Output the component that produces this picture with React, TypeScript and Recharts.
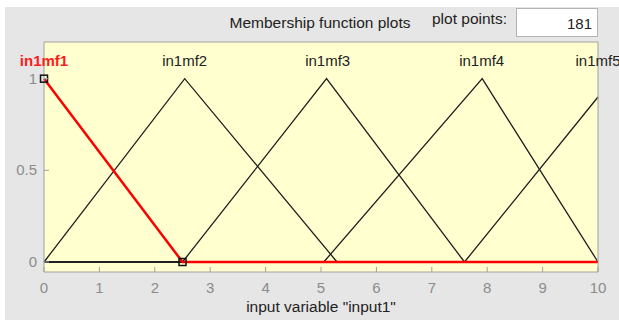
import React from 'react';
import { ComposedChart, Line, Scatter, XAxis, YAxis, CartesianGrid, Label } from 'recharts';

// membership functions of input1
const mf1X = [0, 2.5, 10];
const mf1Y = [1, 0, 0];
const mf2X = [0, 2.54, 5.29, 10];
const mf2Y = [0, 1, 0, 0];
const mf3X = [0, 2.5, 5.1, 7.59, 10];
const mf3Y = [0, 0, 1, 0, 0];
const mf4X = [0, 5.05, 7.91, 10];
const mf4Y = [0, 0, 1, 0];
const mf5X = [0, 7.59, 10];
const mf5Y = [0, 0, 0.9];

const mfNames = ['in1mf1', 'in1mf2', 'in1mf3', 'in1mf4', 'in1mf5'];
const mfLabelX = [0, 2.54, 5.12, 7.9, 10];

// selected mf handles
const handleX = [0, 2.5];
const handleY = [1, 0];

const xTicks = [0, 1, 2, 3, 4, 5, 6, 7, 8, 9, 10];
const yTicks = [0, 0.5, 1];
const plotPoints = 181;

const FONT = '"Liberation Sans", Arial, sans-serif';
const BORDER = '#a0a0a0';
const TICK_TEXT = '#8c8c8c';

const pts = (xs: number[], ys: number[]) => xs.map((x, i) => ({ x, y: ys[i] }));

const BottomTick = (p: any) => (
  <g>
    <line x1={p.x} x2={p.x} y1={p.y} y2={p.y - 5} stroke={BORDER} />
    <text x={p.x} y={p.y + 21} textAnchor="middle" fill={TICK_TEXT} fontSize={15} fontFamily={FONT}>
      {p.payload.value}
    </text>
  </g>
);

const TopTick = (p: any) => <line x1={p.x} x2={p.x} y1={p.y} y2={p.y + 5} stroke={BORDER} />;

const LeftTick = (p: any) => (
  <g>
    <line x1={p.x} x2={p.x + 5} y1={p.y} y2={p.y} stroke={BORDER} />
    <text x={p.x - 7} y={p.y + 5} textAnchor="end" fill={TICK_TEXT} fontSize={15} fontFamily={FONT}>
      {p.payload.value}
    </text>
  </g>
);

const RightTick = (p: any) => <line x1={p.x} x2={p.x - 5} y1={p.y} y2={p.y} stroke={BORDER} />;

const HandleShape = (p: any) => (
  <rect x={p.cx - 3.5} y={p.cy - 3.5} width={7} height={7} fill="none" stroke="#111" strokeWidth={1.5} />
);

const NameShape = (p: any) => {
  const first = p.payload.name === mfNames[0];
  return (
    <text
      x={p.cx}
      y={p.cy - 12.5}
      textAnchor="middle"
      fontSize={15}
      fontFamily={FONT}
      fontWeight={first ? 'bold' : 'normal'}
      fill={first ? '#ff1a1a' : '#222'}
    >
      {p.payload.name}
    </text>
  );
};

export default function App() {
  const labels = mfNames.map((name, i) => ({ x: mfLabelX[i], y: 1, name }));
  const black = [pts(mf2X, mf2Y), pts(mf3X, mf3Y), pts(mf4X, mf4Y), pts(mf5X, mf5Y)];

  return (
    <div style={{ position: 'absolute', left: 0, top: 0, width: 619, height: 320, background: '#fff', overflow: 'hidden' }}>
      <div style={{ position: 'absolute', left: 5, top: 7, width: 614, height: 313, background: '#e6e6e6' }} />
      <svg width={619} height={320} style={{ position: 'absolute', left: 0, top: 0 }}>
        <text x={320} y={28} textAnchor="middle" fontSize={15.5} fontFamily={FONT} fill="#222">
          Membership function plots
        </text>
        <text x={432} y={24} fontSize={15.5} fontFamily={FONT} fill="#222">
          plot points:
        </text>
        <rect x={516.5} y={8.5} width={81} height={28} fill="#fff" stroke="#b4b4b4" />
        <text x={592} y={29} textAnchor="end" fontSize={15} fontFamily={FONT} fill="#222">
          {plotPoints}
        </text>
      </svg>
      <div style={{ position: 'absolute', left: 0, top: 0 }}>
        <ComposedChart width={619} height={320} margin={{ top: 41, right: 20, bottom: 47, left: 43 }}>
          <CartesianGrid horizontal={false} vertical={false} fill="#ffffd0" xAxisId="bottom" yAxisId="left" />
          <XAxis
            xAxisId="bottom"
            type="number"
            dataKey="x"
            domain={[0, 10]}
            ticks={xTicks}
            interval={0}
            height={1}
            tickSize={0}
            tickMargin={0}
            tickLine={false}
            axisLine={{ stroke: BORDER }}
            tick={<BottomTick />}
          >
            <Label
              value={'input variable "input1"'}
              position="bottom"
              offset={28}
              fill="#222"
              fontSize={15.5}
              fontFamily={FONT}
            />
          </XAxis>
          <XAxis
            xAxisId="top"
            orientation="top"
            type="number"
            dataKey="x"
            domain={[0, 10]}
            ticks={xTicks}
            interval={0}
            height={1}
            tickSize={0}
            tickMargin={0}
            tickLine={false}
            axisLine={{ stroke: BORDER }}
            tick={<TopTick />}
          />
          <YAxis
            yAxisId="left"
            type="number"
            dataKey="y"
            domain={[-0.0545, 1.2]}
            ticks={yTicks}
            interval={0}
            width={1}
            tickSize={0}
            tickMargin={0}
            tickLine={false}
            axisLine={{ stroke: BORDER }}
            tick={<LeftTick />}
          />
          <YAxis
            yAxisId="right"
            orientation="right"
            type="number"
            dataKey="y"
            domain={[-0.0545, 1.2]}
            ticks={yTicks}
            interval={0}
            width={1}
            tickSize={0}
            tickMargin={0}
            tickLine={false}
            axisLine={{ stroke: BORDER }}
            tick={<RightTick />}
          />
          {black.map((d, i) => (
            <Line
              key={i}
              xAxisId="bottom"
              yAxisId="left"
              data={d}
              dataKey="y"
              type="linear"
              stroke="#1e1e1e"
              strokeWidth={1.3}
              dot={false}
              isAnimationActive={false}
            />
          ))}
          <Line
            xAxisId="bottom"
            yAxisId="left"
            data={pts(mf1X, mf1Y)}
            dataKey="y"
            type="linear"
            stroke="#ff0000"
            strokeWidth={2.5}
            dot={false}
            isAnimationActive={false}
          />
          <Scatter
            xAxisId="bottom"
            yAxisId="left"
            data={pts(handleX, handleY)}
            dataKey="y"
            shape={HandleShape}
            isAnimationActive={false}
          />
          <Scatter
            xAxisId="bottom"
            yAxisId="left"
            data={labels}
            dataKey="y"
            shape={NameShape}
            isAnimationActive={false}
          />
        </ComposedChart>
      </div>
    </div>
  );
}
